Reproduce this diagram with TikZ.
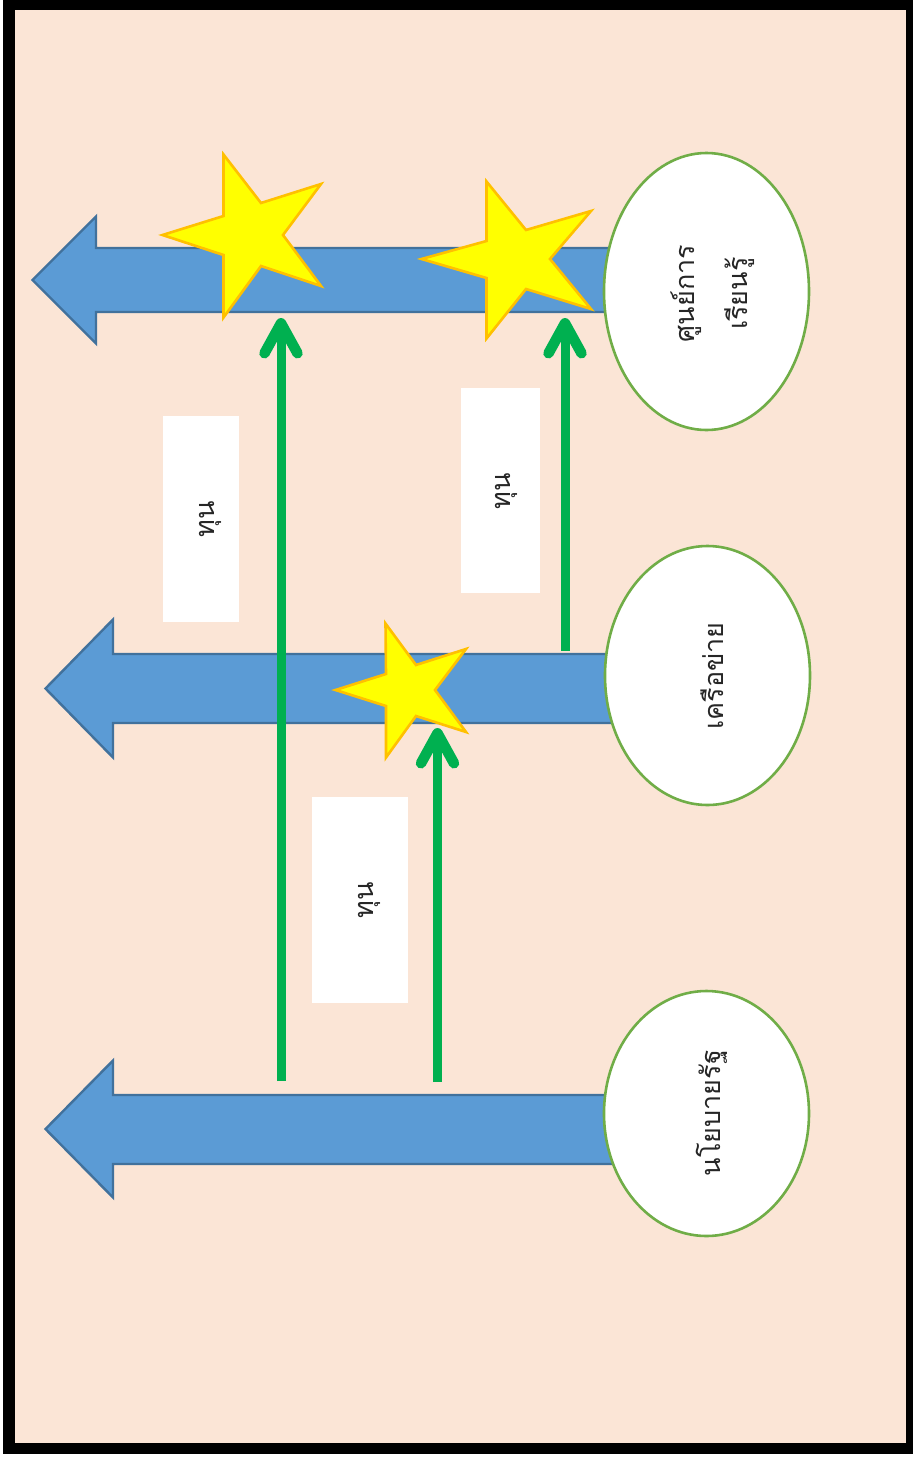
\documentclass[tikz,border=0pt]{standalone}
\usepackage{fontspec}
\usetikzlibrary{shapes.geometric,arrows.meta}
\newfontfamily\thaifont[Script=Thai]{Loma}
\definecolor{peach}{HTML}{FBE5D6}
\definecolor{bluefill}{HTML}{5B9BD5}
\definecolor{blueline}{HTML}{41719C}
\definecolor{ellline}{HTML}{70AD47}
\definecolor{starfill}{HTML}{FFFF00}
\definecolor{starline}{HTML}{FFC000}
\definecolor{arrowgreen}{HTML}{00B050}
\definecolor{inktext}{HTML}{262626}
\tikzset{
  bluearrow/.style={fill=bluefill,draw=blueline,line width=2.4pt,line join=miter},
  starshape/.style={fill=starfill,draw=starline,line width=2.6pt,line join=miter},
  bubble/.style={ellipse,draw=ellline,fill=white,line width=2.6pt,inner sep=0pt,anchor=center},
  labelbox/.style={fill=white,inner sep=0pt,anchor=center},
  thaitext/.style={font=\thaifont\fontsize{27}{53}\selectfont,text=inktext,inner sep=0pt,align=center,anchor=center,rotate=90},
  greenarrow/.style={draw=arrowgreen,line width=9pt,-{Straight Barb[round,length=30pt,width=33pt,line width=10.5pt]}}
}
\begin{document}
\begin{tikzpicture}[x=1pt,y=-1pt]
\useasboundingbox (0,0) rectangle (913,1457);
\fill[white] (0,0) rectangle (913,1457);
\fill[black] (3,0) rectangle (913,1454);
\fill[peach] (15,10) rectangle (906,1443);

% blue arrows
\draw[bluearrow] (32.5,280) -- (96,216.5) -- (96,248) -- (620,248) -- (620,312) -- (96,312) -- (96,343.5) -- cycle;
\draw[bluearrow] (45.5,688.5) -- (113,619.5) -- (113,654) -- (620,654) -- (620,723) -- (113,723) -- (113,757.5) -- cycle;
\draw[bluearrow] (45.5,1129) -- (113,1060.5) -- (113,1095) -- (620,1095) -- (620,1164) -- (113,1164) -- (113,1197.5) -- cycle;

% white label boxes
\node[labelbox,minimum width=76pt,minimum height=206pt] (box1) at (201,519) {};
\node[labelbox,minimum width=79pt,minimum height=205pt] (box2) at (500.5,490.5) {};
\node[labelbox,minimum width=96pt,minimum height=206pt] (box3) at (360,900) {};
\node[thaitext] (lab1) at (210,519) {ทุน};
\node[thaitext] (lab2) at (506,491) {ทุน};
\node[thaitext] (lab3) at (369,900) {ทุน};

% green arrows
\coordinate (a1s) at (281,1081);
\coordinate (a1e) at (281,318);
\coordinate (a2s) at (565,651);
\coordinate (a2e) at (565,318);
\coordinate (a3s) at (437.5,1082);
\coordinate (a3e) at (437.5,728);

% stars
\draw[starshape] (223.5,154.5) -- (261,203) -- (321,184) -- (283,235) -- (321,286) -- (261,266) -- (223.5,317.5) -- (223.5,255) -- (162.5,235) -- (223.5,216) -- cycle;
\draw[starshape] (486.5,181.5) -- (526,230) -- (591,211) -- (550,259) -- (591,309) -- (526,289) -- (486.5,338.5) -- (486.5,278) -- (421.5,259) -- (486.5,241) -- cycle;
\draw[starshape] (385.5,623.5) -- (416,665) -- (466,649) -- (435,690) -- (466,732) -- (416,716) -- (386,757.5) -- (386,706) -- (335.5,690) -- (386,674) -- cycle;

\draw[greenarrow] (a1s) -- (a1e);
\draw[greenarrow] (a2s) -- (a2e);
\draw[greenarrow] (a3s) -- (a3e);

% ellipses
\node[bubble,minimum width=205pt,minimum height=277pt] (e1) at (706.5,291.5) {};
\node[bubble,minimum width=205pt,minimum height=259pt] (e2) at (707.5,675.5) {};
\node[bubble,minimum width=205pt,minimum height=245pt] (e3) at (706.5,1113.5) {};
\node[thaitext] (t1) at (713,293.5) {ศูนย์การ\\เรียนรู้};
\node[thaitext] (t2) at (712,676) {เครือข่าย};
\node[thaitext] (t3) at (712,1113) {นโยบายรัฐ};
\end{tikzpicture}
\end{document}
